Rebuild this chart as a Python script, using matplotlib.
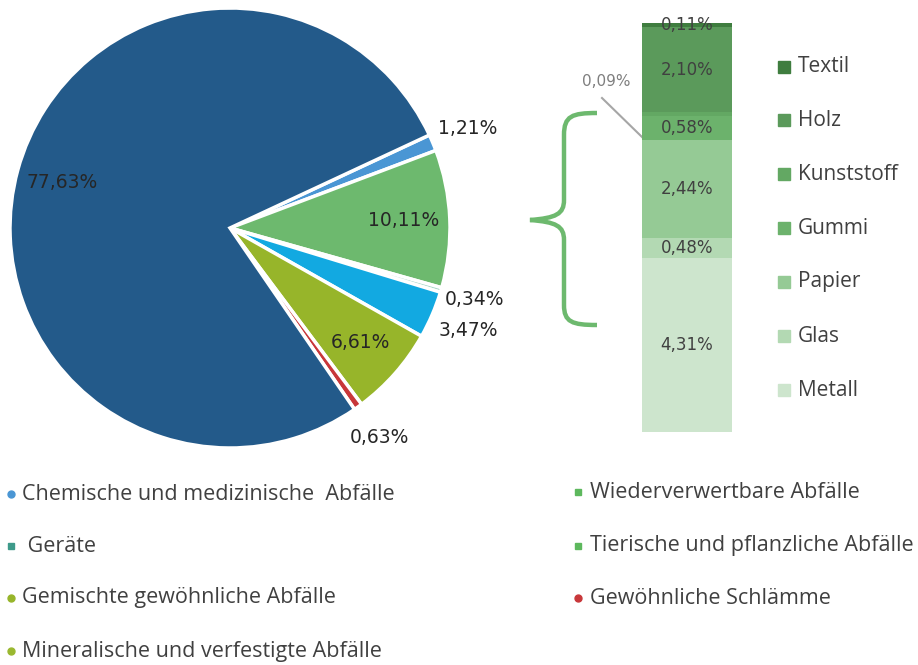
import matplotlib
matplotlib.use('Agg')
import numpy as np
import matplotlib.pyplot as plt
from matplotlib.path import Path
import matplotlib.patches as mpatches

# pie data (clockwise from upper right)
pie_vals = [1.21, 10.11, 0.34, 3.47, 6.61, 0.63, 77.63]
pie_lbls = ['1,21%', '10,11%', '0,34%', '3,47%', '6,61%', '0,63%', '77,63%']
pie_cols = ['#4A96D4', '#6DB96E', '#A8D6C8', '#12A9E1', '#97B52A', '#C8373A', '#235A8A']
pie_lr = [1.17, 0.79, 1.16, 1.18, 0.79, 1.17, 0.79]

# stacked bar (bottom -> top)
bar_cats = ['Metall', 'Glas', 'Papier', 'Gummi', 'Kunststoff', 'Holz', 'Textil']
bar_vals = [4.31, 0.48, 2.44, 0.58, 0.09, 2.10, 0.11]
bar_lbls = ['4,31%', '0,48%', '2,44%', '0,58%', '', '2,10%', '0,11%']
bar_cols = ['#CDE5CD', '#B3D9B3', '#95CA95', '#6CB26C', '#63A863', '#5B9A5B', '#3F7D3F']

# bottom legend
leg_left = ['Chemische und medizinische  Abfälle', ' Geräte',
            'Gemischte gewöhnliche Abfälle', 'Mineralische und verfestigte Abfälle']
leg_left_m = ['o', 's', 'o', 'o']
leg_left_c = ['#4A96D4', '#3E9A8A', '#97B52A', '#9AB830']
leg_right = ['Wiederverwertbare Abfälle', 'Tierische und pflanzliche Abfälle', 'Gewöhnliche Schlämme']
leg_right_m = ['s', 's', 'o']
leg_right_c = ['#5DB85D', '#5DB85D', '#C8373A']

W, H = 918, 665
fig = plt.figure(figsize=(W/100., H/100.), dpi=100)

# overlay in pixel coordinates (y down)
axo = fig.add_axes([0, 0, 1, 1])
axo.set_xlim(0, W)
axo.set_ylim(H, 0)
axo.axis('off')

# pie
cx, cy, R = 230, 228, 220
axp = fig.add_axes([(cx-R)/W, (H-cy-R)/H, 2*R/W, 2*R/H])
wedges, _ = axp.pie(pie_vals, colors=pie_cols, startangle=25, counterclock=False,
                    wedgeprops=dict(edgecolor='white', linewidth=2.5))
for w, lab, r in zip(wedges, pie_lbls, pie_lr):
    a = np.deg2rad((w.theta1 + w.theta2) / 2.)
    axp.text(r*np.cos(a), r*np.sin(a), lab, ha='center', va='center',
             fontsize=13.5, color='#262626', family='DejaVu Sans')
axp.set_xlim(-1, 1)
axp.set_ylim(-1, 1)
axp.set_aspect('equal')
axp.axis('off')

# stacked bar
axb = fig.add_axes([642/W, (H-432)/H, 90/W, 409/H])
bottom = 0.0
for v, lab, c in zip(bar_vals, bar_lbls, bar_cols):
    axb.bar(0, v, bottom=bottom, width=1.0, color=c, edgecolor='none')
    if lab:
        axb.text(0, bottom + v/2., lab, ha='center', va='center', fontsize=12,
                 color='#404040', family='DejaVu Sans')
    bottom += v
axb.set_xlim(-0.5, 0.5)
axb.set_ylim(0, sum(bar_vals))
axb.axis('off')

# 0,09% label with leader line
axo.plot([602, 642], [98, 137], color='#A6A6A6', linewidth=1.5)
axo.text(606, 82, '0,09%', ha='center', va='center', fontsize=11, color='#7F7F7F',
         family='DejaVu Sans')

# brace
verts = [(597, 113), (572, 113), (564, 116), (564, 135),
         (564, 200),
         (564, 214), (556, 218), (530, 220),
         (556, 222), (564, 226), (564, 240),
         (564, 305),
         (564, 322), (572, 325), (597, 325)]
codes = [Path.MOVETO, Path.CURVE4, Path.CURVE4, Path.CURVE4,
         Path.LINETO,
         Path.CURVE4, Path.CURVE4, Path.CURVE4,
         Path.CURVE4, Path.CURVE4, Path.CURVE4,
         Path.LINETO,
         Path.CURVE4, Path.CURVE4, Path.CURVE4]
axo.add_patch(mpatches.PathPatch(Path(verts, codes), facecolor='none',
                                 edgecolor='#6DB96E', linewidth=3.2, capstyle='butt'))

# right legend (bar categories, top -> bottom)
ly = [67, 120, 174, 228, 282, 336, 390]
for y, cat, c in zip(ly, bar_cats[::-1], bar_cols[::-1]):
    axo.plot(784, y, marker='s', markersize=8, color=c, linestyle='none')
    axo.text(798, y, cat, ha='left', va='center', fontsize=15, color='#404040',
             family='Open Sans')

# bottom legend
ly_l = [494, 546, 598, 651]
for y, t, m, c in zip(ly_l, leg_left, leg_left_m, leg_left_c):
    axo.plot(11, y, marker=m, markersize=5, color=c, linestyle='none')
    axo.text(22, y, t, ha='left', va='center', fontsize=15.5, color='#404040',
             family='Open Sans')
ly_r = [492, 546, 598]
for y, t, m, c in zip(ly_r, leg_right, leg_right_m, leg_right_c):
    axo.plot(578, y, marker=m, markersize=5, color=c, linestyle='none')
    axo.text(590, y, t, ha='left', va='center', fontsize=15.5, color='#404040',
             family='Open Sans')

fig.savefig('out.png', dpi=100)
